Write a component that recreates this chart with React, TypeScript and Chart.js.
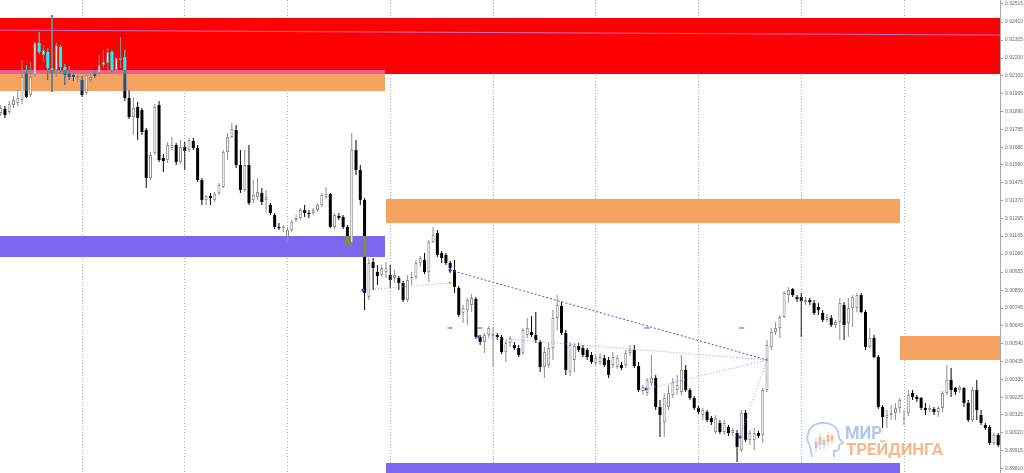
import React, { useEffect, useRef } from "react";
import { Chart, registerables } from "chart.js";

Chart.register(...registerables);

// ---- OHLC data (H1 bars, oldest first) ----
const OPEN = [
  0.91881, 0.91904, 0.91886, 0.91927, 0.91939, 0.91956, 0.92119, 0.91985, 0.92102, 0.92288,
  0.92218, 0.92236, 0.92142, 0.92131, 0.92265, 0.92148, 0.92113, 0.92102, 0.92084, 0.92073,
  0.91997, 0.92073, 0.92108, 0.92113, 0.9216, 0.92172, 0.92236, 0.92131, 0.92189, 0.92206,
  0.91968, 0.91857, 0.91916, 0.91898, 0.91782, 0.91503, 0.91648, 0.91927, 0.91619, 0.91607,
  0.91677, 0.91695, 0.91596, 0.91683, 0.91665, 0.91718, 0.91677, 0.91491, 0.91375, 0.91398,
  0.91375, 0.91415, 0.9145, 0.91654, 0.91741, 0.91782, 0.91578, 0.91433, 0.91578, 0.91375,
  0.91392, 0.91415, 0.91375, 0.91346, 0.91287, 0.91218, 0.91212, 0.91159, 0.912, 0.91258,
  0.9127, 0.91316, 0.91299, 0.91299, 0.91316, 0.91346, 0.91392, 0.91409, 0.91218, 0.91282,
  0.91276, 0.91218, 0.91124, 0.91665, 0.91549, 0.91375, 0.9081, 0.91014, 0.90956, 0.90938,
  0.90956, 0.90938, 0.90921, 0.90921, 0.90892, 0.90793, 0.90921, 0.90927, 0.91008, 0.91026,
  0.90956, 0.9113, 0.91183, 0.91066, 0.91055, 0.91008, 0.90967, 0.90863, 0.90717, 0.90735,
  0.90764, 0.90799, 0.90578, 0.90549, 0.90589, 0.90583, 0.90589, 0.90578, 0.9049, 0.90543,
  0.90531, 0.90514, 0.90485, 0.90589, 0.90607, 0.90589, 0.90549, 0.90403, 0.90415, 0.90514,
  0.90688, 0.90758, 0.90601, 0.90374, 0.90444, 0.90525, 0.90514, 0.90502, 0.90473, 0.90426,
  0.90432, 0.90455, 0.90444, 0.90415, 0.90403, 0.90415, 0.90415, 0.90485, 0.90502, 0.90409,
  0.90264, 0.90252, 0.9031, 0.90339, 0.9017, 0.90083, 0.9017, 0.9024, 0.90269, 0.90258,
  0.90386, 0.90269, 0.90223, 0.90165, 0.90124, 0.90141, 0.90106, 0.90025, 0.90077, 0.90025,
  0.90054, 0.90019, 0.90019, 0.8992, 0.90136, 0.89979, 0.89979, 0.90019, 0.90008, 0.90269,
  0.9052, 0.90607, 0.9063, 0.90694, 0.90822, 0.90857, 0.9081, 0.9081, 0.90781, 0.90793,
  0.90775, 0.90752, 0.90717, 0.90677, 0.90688, 0.90647, 0.90665, 0.90764, 0.90659, 0.90746,
  0.90746, 0.90822, 0.90723, 0.9052, 0.90572, 0.90461, 0.9017, 0.90106, 0.90124, 0.90136,
  0.90165, 0.90101, 0.90136, 0.90252, 0.90229, 0.90223, 0.90165, 0.90153, 0.90159, 0.90141,
  0.90165, 0.90252, 0.90328, 0.90281, 0.90269, 0.90281, 0.90194, 0.90095, 0.90269, 0.90124,
  0.90066, 0.90054, 0.89961, 0.90008,
];
const HIGH = [
  0.91927, 0.91921, 0.9195, 0.9198, 0.92014, 0.92189, 0.9216, 0.92177, 0.92294, 0.92352,
  0.92276, 0.92259, 0.92451, 0.92288, 0.92276, 0.92166, 0.92154, 0.92119, 0.92113, 0.92096,
  0.92119, 0.92113, 0.92131, 0.92218, 0.92247, 0.92259, 0.92247, 0.92206, 0.92323, 0.92247,
  0.92014, 0.91974, 0.91945, 0.9191, 0.91793, 0.91654, 0.91933, 0.9195, 0.91642, 0.91712,
  0.91741, 0.91706, 0.91724, 0.91712, 0.91735, 0.91735, 0.91695, 0.91503, 0.91404, 0.91415,
  0.91421, 0.91473, 0.91665, 0.91764, 0.91823, 0.91811, 0.91665, 0.91665, 0.91695, 0.91491,
  0.91503, 0.91444, 0.91433, 0.91357, 0.91299, 0.91241, 0.91229, 0.91218, 0.91258, 0.91287,
  0.91328, 0.91346, 0.91316, 0.91328, 0.91357, 0.91415, 0.9145, 0.91415, 0.91299, 0.91299,
  0.91287, 0.91229, 0.91764, 0.91724, 0.91578, 0.91386, 0.91037, 0.91037, 0.90996, 0.90996,
  0.91014, 0.90996, 0.90967, 0.90932, 0.90903, 0.90938, 0.90956, 0.91026, 0.91049, 0.91066,
  0.91142, 0.91218, 0.912, 0.91078, 0.91066, 0.9102, 0.91026, 0.90874, 0.90764, 0.90805,
  0.90828, 0.9081, 0.90589, 0.90601, 0.90642, 0.90636, 0.90601, 0.90589, 0.9056, 0.90583,
  0.90549, 0.90531, 0.9063, 0.90688, 0.907, 0.90723, 0.9056, 0.9052, 0.90543, 0.90735,
  0.90822, 0.90781, 0.90618, 0.90549, 0.90543, 0.90543, 0.90531, 0.90514, 0.9049, 0.90473,
  0.90485, 0.90473, 0.90461, 0.9049, 0.90473, 0.90432, 0.90502, 0.90531, 0.90531, 0.90432,
  0.90298, 0.90339, 0.90473, 0.90357, 0.90211, 0.90252, 0.90298, 0.90339, 0.90357, 0.90473,
  0.90415, 0.90281, 0.90234, 0.90176, 0.90165, 0.90153, 0.90118, 0.90124, 0.90095, 0.90095,
  0.90066, 0.90048, 0.90036, 0.90153, 0.90153, 0.90036, 0.90048, 0.90031, 0.90281, 0.9056,
  0.9063, 0.90665, 0.90706, 0.90845, 0.90869, 0.90863, 0.90822, 0.90834, 0.9081, 0.90805,
  0.90793, 0.90775, 0.90735, 0.90711, 0.90706, 0.90677, 0.90805, 0.90781, 0.90805, 0.90822,
  0.90834, 0.90834, 0.90735, 0.9063, 0.90589, 0.90473, 0.90182, 0.90153, 0.90182, 0.90194,
  0.90223, 0.90153, 0.90269, 0.90269, 0.9024, 0.90229, 0.90194, 0.90182, 0.9017, 0.90176,
  0.90264, 0.90415, 0.90397, 0.90287, 0.90298, 0.90287, 0.90211, 0.90287, 0.90328, 0.90153,
  0.90077, 0.90066, 0.90019, 0.90019,
];
const LOW = [
  0.91863, 0.91852, 0.91875, 0.9191, 0.91921, 0.91933, 0.91968, 0.91974, 0.9209, 0.92224,
  0.92177, 0.92073, 0.92003, 0.9209, 0.92113, 0.92044, 0.92073, 0.92067, 0.92061, 0.91974,
  0.91985, 0.92061, 0.92084, 0.92096, 0.92142, 0.92131, 0.92119, 0.92113, 0.92142, 0.9195,
  0.91846, 0.91753, 0.91724, 0.91753, 0.91444, 0.91491, 0.91636, 0.91596, 0.91537, 0.9159,
  0.91665, 0.91578, 0.91584, 0.91549, 0.91654, 0.91665, 0.91479, 0.91346, 0.91346, 0.91346,
  0.91363, 0.91404, 0.91444, 0.91607, 0.91735, 0.91561, 0.91415, 0.91421, 0.91346, 0.91357,
  0.91375, 0.91346, 0.91299, 0.91287, 0.91206, 0.912, 0.91188, 0.9113, 0.91188, 0.91247,
  0.91258, 0.91276, 0.9127, 0.91287, 0.91305, 0.91334, 0.9138, 0.91212, 0.91206, 0.91258,
  0.91206, 0.91084, 0.91113, 0.9152, 0.91346, 0.90735, 0.90793, 0.90851, 0.9088, 0.90927,
  0.90921, 0.90863, 0.90892, 0.90851, 0.90781, 0.90781, 0.9088, 0.90915, 0.90985, 0.90944,
  0.90898, 0.91124, 0.91043, 0.91008, 0.90996, 0.9095, 0.90834, 0.90694, 0.90659, 0.90647,
  0.90723, 0.90566, 0.90531, 0.90485, 0.90578, 0.90403, 0.9056, 0.90479, 0.90432, 0.9052,
  0.90502, 0.90461, 0.90473, 0.90572, 0.90578, 0.90543, 0.90374, 0.90339, 0.90397, 0.90444,
  0.90618, 0.90589, 0.90357, 0.90351, 0.90374, 0.9049, 0.90461, 0.90444, 0.90421, 0.90409,
  0.90415, 0.90403, 0.90339, 0.90397, 0.90392, 0.90386, 0.90397, 0.90467, 0.90397, 0.90258,
  0.9024, 0.90234, 0.90293, 0.90153, 0.89996, 0.89996, 0.90153, 0.90223, 0.9024, 0.9024,
  0.90258, 0.90211, 0.90153, 0.9013, 0.90095, 0.90083, 0.90066, 0.90013, 0.90013, 0.90008,
  0.90002, 0.90002, 0.89851, 0.89909, 0.89967, 0.89949, 0.8992, 0.8999, 0.89961, 0.90258,
  0.90502, 0.90589, 0.90572, 0.90688, 0.90775, 0.9081, 0.90781, 0.90578, 0.90764, 0.90764,
  0.90706, 0.90706, 0.90665, 0.90665, 0.90636, 0.9063, 0.9056, 0.9056, 0.90578, 0.90636,
  0.90723, 0.90717, 0.90502, 0.90514, 0.90455, 0.90159, 0.90048, 0.90048, 0.90095, 0.90095,
  0.90136, 0.90066, 0.90118, 0.90211, 0.902, 0.90153, 0.90124, 0.90141, 0.90124, 0.90112,
  0.90141, 0.9024, 0.90229, 0.9024, 0.90252, 0.9017, 0.90083, 0.90083, 0.90095, 0.90066,
  0.90036, 0.89949, 0.89949, 0.89938,
];
const CLOSE = [
  0.9191, 0.91869, 0.91933, 0.91956, 0.91968, 0.9209, 0.91974, 0.9209, 0.92288, 0.92236,
  0.92247, 0.92142, 0.92113, 0.92276, 0.92148, 0.92102, 0.9209, 0.9209, 0.92096, 0.91985,
  0.92102, 0.9209, 0.92096, 0.9216, 0.92177, 0.92236, 0.92131, 0.92201, 0.92201, 0.91968,
  0.91857, 0.9191, 0.91852, 0.9177, 0.91503, 0.91636, 0.91916, 0.91607, 0.91601, 0.91695,
  0.91695, 0.91596, 0.91683, 0.9166, 0.91724, 0.91677, 0.91491, 0.91375, 0.91398, 0.91386,
  0.91409, 0.91462, 0.91654, 0.91741, 0.91788, 0.91578, 0.91433, 0.91578, 0.91357, 0.91404,
  0.91421, 0.91363, 0.91392, 0.91299, 0.91218, 0.91212, 0.91218, 0.912, 0.91247, 0.9127,
  0.91316, 0.91299, 0.91293, 0.91316, 0.91346, 0.91404, 0.91409, 0.91218, 0.91287, 0.9127,
  0.91218, 0.91113, 0.91665, 0.91549, 0.91375, 0.90834, 0.91008, 0.90979, 0.90932, 0.90979,
  0.90979, 0.90909, 0.90938, 0.90892, 0.90793, 0.90909, 0.90927, 0.91008, 0.91037, 0.90956,
  0.9113, 0.91171, 0.91055, 0.91037, 0.91008, 0.90979, 0.90869, 0.90706, 0.90746, 0.90793,
  0.90805, 0.90578, 0.90549, 0.90589, 0.9063, 0.90595, 0.90578, 0.9049, 0.90543, 0.90572,
  0.90514, 0.90473, 0.90618, 0.9063, 0.90589, 0.9056, 0.90403, 0.9049, 0.90514, 0.90688,
  0.90764, 0.90601, 0.90386, 0.90531, 0.90525, 0.90502, 0.90473, 0.90461, 0.90432, 0.90455,
  0.90461, 0.90415, 0.90357, 0.90461, 0.90455, 0.90397, 0.90485, 0.90502, 0.90409, 0.90269,
  0.90287, 0.90328, 0.90339, 0.9017, 0.90124, 0.90223, 0.90252, 0.90316, 0.90298, 0.90386,
  0.90269, 0.90223, 0.90165, 0.90141, 0.90153, 0.90095, 0.90083, 0.90106, 0.90025, 0.90077,
  0.90019, 0.90036, 0.89938, 0.90136, 0.89979, 0.90019, 0.90019, 0.90002, 0.90269, 0.90531,
  0.90607, 0.9063, 0.90694, 0.90834, 0.90851, 0.90822, 0.90799, 0.90787, 0.90793, 0.90781,
  0.90717, 0.90735, 0.90677, 0.90694, 0.90647, 0.90665, 0.90775, 0.90647, 0.90746, 0.9081,
  0.90822, 0.90723, 0.9052, 0.90572, 0.90461, 0.9017, 0.90112, 0.90124, 0.90136, 0.90165,
  0.90211, 0.90106, 0.9024, 0.90229, 0.90217, 0.90165, 0.90153, 0.90165, 0.90141, 0.90165,
  0.90252, 0.90328, 0.90269, 0.90258, 0.90287, 0.90194, 0.90095, 0.90269, 0.90153, 0.90077,
  0.90048, 0.89961, 0.90008, 0.89949,
];

// ---- axis ----
const Y_TICKS = [
  0.92515, 0.9241, 0.92305, 0.922, 0.921, 0.91995, 0.9189, 0.91785, 0.9168, 0.9158,
  0.91475, 0.9137, 0.91265, 0.91165, 0.9106, 0.90955, 0.9085, 0.90746, 0.90645, 0.9054,
  0.90435, 0.9033, 0.90225, 0.90125, 0.9002, 0.89915, 0.8981,
];
const Y_MIN = 0.897864;
const Y_MAX = 0.92538;
const X_MIN = -0.153;
const X_MAX = 233.42;
const DAY_BARS = [19, 43, 67, 91, 115, 139, 163, 187, 211];

// ---- zones (bar index range, price range) ----
const ZONE_FROM = [-1, -1, -1, -1, 90.0, 210.07, 90.0];
const ZONE_TO = [240, 89.77, 89.77, 89.77, 210.07, 240, 210.07];
const ZONE_TOP = [0.92433, 0.92131, 0.92131, 0.91165, 0.9138, 0.90583, 0.89845];
const ZONE_BOTTOM = [0.92108, 0.92009, 0.92108, 0.91043, 0.91241, 0.90444, 0.897];
const ZONE_COLOR = ["#ff0000", "#f4a460", "#ee5e96", "#7b68ee", "#f4a460", "#f4a460", "#7b68ee"];

// ---- trend lines ----
const LINE_X1 = [-0.2, 84.63, 104.95, 111.73, 150.74, 172.69];
const LINE_Y1 = [0.92363, 0.90851, 0.90967, 0.90578, 0.90275, 0.89996];
const LINE_X2 = [233.5, 104.95, 179.0, 179.0, 179.0, 179.0];
const LINE_Y2 = [0.92334, 0.90892, 0.90444, 0.90444, 0.90444, 0.90444];
const LINE_COLOR = ["#c46ed0", "#9a9ae0", "#5050c8", "#9a9ae0", "#9a9ae0", "#9a9ae0"];
const LINE_DASH = [[], [1, 2], [2, 2], [1, 2], [1, 2], [1, 2]];

const DOT_X = [84.63, 104.95, 111.73, 150.74, 172.69];
const DOT_Y = [0.90851, 0.90967, 0.90578, 0.90275, 0.89996];
const ODOT_X = [179.0, 104.95];
const ODOT_Y = [0.90444, 0.90892];
const DASH_X = [104.95, 111.96, 150.97, 173.1];
const DASH_Y = [0.9063, 0.9063, 0.9063, 0.9063];

const BULL_COLOR = "#8e8e8e";

const bgPlugin = {
  id: "bgWhite",
  beforeDraw(chart: any) {
    const ctx = chart.ctx;
    ctx.save();
    ctx.fillStyle = "#ffffff";
    ctx.fillRect(0, 0, chart.width, chart.height);
    ctx.restore();
  },
};

const zonesPlugin = {
  id: "zones",
  beforeDatasetsDraw(chart: any) {
    const { ctx, chartArea, scales } = chart;
    const xs = scales.x;
    const ys = scales.y;
    ctx.save();
    ctx.beginPath();
    ctx.rect(chartArea.left, chartArea.top, chartArea.right - chartArea.left, chartArea.bottom - chartArea.top);
    ctx.clip();
    for (let i = 0; i < ZONE_FROM.length; i++) {
      const x1 = xs.getPixelForValue(ZONE_FROM[i]);
      const x2 = xs.getPixelForValue(ZONE_TO[i]);
      const y1 = ys.getPixelForValue(ZONE_TOP[i]);
      const y2 = ys.getPixelForValue(ZONE_BOTTOM[i]);
      ctx.fillStyle = ZONE_COLOR[i];
      ctx.fillRect(Math.round(x1), Math.round(y1), Math.round(x2) - Math.round(x1), Math.round(y2) - Math.round(y1));
    }
    ctx.restore();
  },
};

const blendPlugin = {
  id: "blend",
  beforeDatasetDraw(chart: any, args: any) {
    const ds = chart.data.datasets[args.index];
    if (ds && ds.blend) {
      chart.ctx.save();
      chart.ctx.globalCompositeOperation = ds.blend;
    }
  },
  afterDatasetDraw(chart: any, args: any) {
    const ds = chart.data.datasets[args.index];
    if (ds && ds.blend) chart.ctx.restore();
  },
};

export default function App() {
  const ref = useRef<HTMLCanvasElement | null>(null);

  useEffect(() => {
    if (!ref.current) return;
    const idx = OPEN.map((_, i) => i);
    const bull = idx.filter((i) => CLOSE[i] >= OPEN[i]);
    const bear = idx.filter((i) => CLOSE[i] < OPEN[i]);

    const lineSets = LINE_X1.map((x1, i) => ({
      type: "line",
      data: [
        { x: x1, y: LINE_Y1[i] },
        { x: LINE_X2[i], y: LINE_Y2[i] },
      ],
      borderColor: LINE_COLOR[i],
      borderWidth: 1,
      borderDash: LINE_DASH[i],
      pointRadius: 0,
      pointHoverRadius: 0,
      fill: false,
      order: 0,
    }));

    const datasets: any[] = [
      ...lineSets,
      {
        type: "line",
        showLine: false,
        data: DOT_X.map((x, i) => ({ x, y: DOT_Y[i] })),
        pointRadius: 1.6,
        pointHoverRadius: 0,
        pointBackgroundColor: "#3030c0",
        pointBorderWidth: 0,
        order: 0,
      },
      {
        type: "line",
        showLine: false,
        data: ODOT_X.map((x, i) => ({ x, y: ODOT_Y[i] })),
        pointRadius: 1.4,
        pointHoverRadius: 0,
        pointBackgroundColor: "#f0a040",
        pointBorderWidth: 0,
        order: 0,
      },
      {
        type: "line",
        showLine: false,
        data: DASH_X.map((x, i) => ({ x, y: DASH_Y[i] })),
        pointStyle: "line",
        pointRadius: 2.5,
        pointHoverRadius: 0,
        pointBorderColor: "#5050c0",
        pointBorderWidth: 1,
        order: 0,
      },
      // bodies
      {
        type: "bar",
        data: bull.map((i) => ({ x: i, y: [OPEN[i], CLOSE[i]] })),
        backgroundColor: "#ffffff",
        borderColor: BULL_COLOR,
        borderWidth: 1,
        borderSkipped: false,
        grouped: false,
        maxBarThickness: 3,
        order: 1,
      },
      {
        type: "bar",
        data: bear.map((i) => ({ x: i, y: [CLOSE[i], OPEN[i]] })),
        backgroundColor: "#ffffff",
        borderWidth: 0,
        grouped: false,
        maxBarThickness: 3,
        order: 1,
        blend: "difference",
      },
      // wicks
      {
        type: "bar",
        data: bull.map((i) => ({ x: i, y: [LOW[i], HIGH[i]] })),
        backgroundColor: BULL_COLOR,
        borderWidth: 0,
        grouped: false,
        maxBarThickness: 1,
        order: 2,
      },
      {
        type: "bar",
        data: bear.map((i) => ({ x: i, y: [OPEN[i], HIGH[i]] })),
        backgroundColor: "#ffffff",
        borderWidth: 0,
        grouped: false,
        maxBarThickness: 1,
        order: 2,
        blend: "difference",
      },
      {
        type: "bar",
        data: bear.map((i) => ({ x: i, y: [LOW[i], CLOSE[i]] })),
        backgroundColor: "#ffffff",
        borderWidth: 0,
        grouped: false,
        maxBarThickness: 1,
        order: 2,
        blend: "difference",
      },
    ];

    const chart = new Chart(ref.current, {
      type: "bar",
      data: { datasets },
      options: {
        responsive: false,
        maintainAspectRatio: false,
        devicePixelRatio: 1,
        animation: false,
        layout: { padding: 0, autoPadding: false },
        plugins: { legend: { display: false }, tooltip: { enabled: false } },
        scales: {
          x: {
            type: "linear",
            min: X_MIN,
            max: X_MAX,
            offset: false,
            grid: {
              display: true,
              offset: false,
              drawOnChartArea: true,
              drawTicks: false,
              color: "#b0b0b0",
              lineWidth: 1,
            },
            border: { display: false, dash: [1, 2] },
            ticks: { display: false },
            afterBuildTicks: (s: any) => {
              s.ticks = DAY_BARS.map((v) => ({ value: v }));
            },
            afterFit: (s: any) => {
              s.height = 0;
              s.paddingLeft = 0;
              s.paddingRight = 0;
            },
          },
          y: {
            type: "linear",
            position: "right",
            min: Y_MIN,
            max: Y_MAX,
            beginAtZero: false,
            grid: {
              drawOnChartArea: false,
              drawTicks: true,
              tickLength: 3,
              tickColor: "#9a9a9a",
              offset: false,
            },
            border: { display: true, color: "#a8a8a8", width: 1 },
            ticks: {
              autoSkip: false,
              padding: 2,
              color: "#6a6a6a",
              font: { size: 5, family: "'Liberation Sans', Arial, sans-serif" },
              callback: (v: any) => Number(v).toFixed(5),
            },
            afterBuildTicks: (s: any) => {
              s.ticks = Y_TICKS.map((v) => ({ value: v }));
            },
            afterFit: (s: any) => {
              s.width = 24;
              s.paddingTop = 0;
              s.paddingBottom = 0;
            },
          },
        },
      } as any,
      plugins: [bgPlugin, zonesPlugin, blendPlugin] as any,
    } as any);

    return () => chart.destroy();
  }, []);

  return (
    <div style={{ position: "fixed", left: 0, top: 0, width: 1024, height: 473, background: "#fff", overflow: "hidden" }}>
      <canvas ref={ref} width={1024} height={473} style={{ display: "block", width: 1024, height: 473 }} />
      <svg
        width={1024}
        height={473}
        style={{ position: "absolute", left: 0, top: 0, pointerEvents: "none" }}
      >
        <g opacity={0.85}>
          <path
            d="M812 457 L810 446 Q806 440 808 434 Q810 424 821 423 Q833 422 838 431 L839 438 L843 443 L839 445 L839 449 Q838 451 834 451 L834 457"
            fill="none"
            stroke="#a9c2ea"
            strokeWidth={1.8}
          />
          <line x1={816} y1={438} x2={816} y2={452} stroke="#a9c2ea" strokeWidth={1} />
          <rect x={814.5} y={442} width={3} height={6} fill="#a9c2ea" />
          <line x1={820} y1={434} x2={820} y2={450} stroke="#f4b183" strokeWidth={1} />
          <rect x={818.5} y={437} width={3} height={8} fill="#f4b183" />
          <line x1={824} y1={437} x2={824} y2={449} stroke="#a9c2ea" strokeWidth={1} />
          <rect x={822.5} y={440} width={3} height={5} fill="#a9c2ea" />
          <line x1={828} y1={432} x2={828} y2={446} stroke="#f4b183" strokeWidth={1} />
          <rect x={826.5} y={435} width={3} height={7} fill="#f4b183" />
          <line x1={832} y1={434} x2={832} y2={444} stroke="#f4b183" strokeWidth={1} />
          <rect x={830.5} y={436} width={3} height={5} fill="#f4b183" />
          <text
            x={845}
            y={439}
            fontFamily="Roboto, 'Open Sans', sans-serif"
            fontWeight={700}
            fontSize={19}
            fill="#a3bde8"
            textLength={37}
            lengthAdjust="spacingAndGlyphs"
          >
            МИР
          </text>
          <text
            x={846}
            y={455}
            fontFamily="Roboto, 'Open Sans', sans-serif"
            fontWeight={700}
            fontSize={16}
            fill="#f5ad78"
            textLength={97}
            lengthAdjust="spacingAndGlyphs"
          >
            ТРЕЙДИНГА
          </text>
        </g>
      </svg>
    </div>
  );
}
